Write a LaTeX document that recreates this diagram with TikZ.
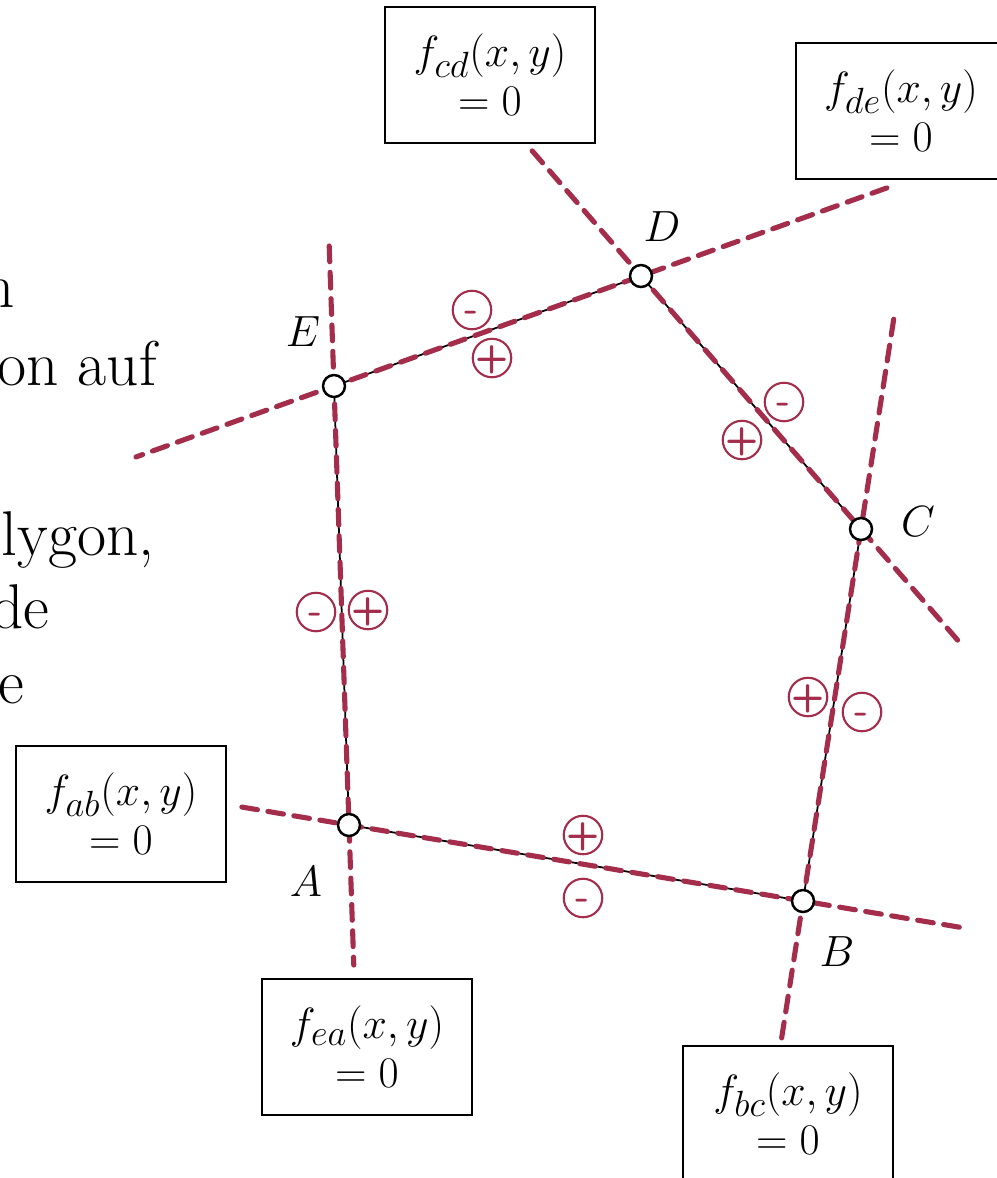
\documentclass[tikz,border=0pt]{standalone}
\usepackage{tikz}
\usepackage{xcolor}
\usetikzlibrary{calc}
\definecolor{wineRed}{RGB}{163,45,74}
\newcommand{\SignMark}[1]{\smash{\raisebox{-0.3em}{\makebox[0pt]{#1}}}}
\tikzset{
  vertex/.style={circle,draw=black,fill=white,line width=1.4pt,inner sep=0pt,minimum size=0.44cm},
  halfplane/.style={draw=wineRed,line width=2.9pt,line cap=round,dash pattern=on 9pt off 6pt},
  sign/.style={circle,draw=wineRed,text=wineRed,line width=1.2pt,inner sep=0pt,minimum size=0.77cm,font=\sffamily\bfseries\fontsize{22}{22}\selectfont},
  eqbox/.style={draw=black,fill=white,line width=0.9pt,minimum width=4.2cm,minimum height=2.72cm,align=center,font=\fontsize{31}{28}\selectfont},
  ptlabel/.style={font=\fontsize{28}{30}\selectfont},
  sidetext/.style={anchor=base east,inner sep=0pt,font=\fontsize{36}{40}\selectfont}
}

\begin{document}
\begin{tikzpicture}[x=0.02cm,y=-0.02cm]
\useasboundingbox (0,0) rectangle (997,1178);
\coordinate (A) at (349,825);
\coordinate (B) at (803,901);
\coordinate (C) at (861,529);
\coordinate (D) at (641,276);
\coordinate (E) at (334,386);

\node[sidetext] (t1) at (15,307) {n};
\node[sidetext] (t2) at (157,385) {on auf};
\node[sidetext] (t3) at (155,555) {lygon,};
\node[sidetext] (t4) at (50,628) {de};
\node[sidetext] (t5) at (25,703) {e};

\draw[line width=1pt] (A) -- (B) -- (C) -- (D) -- (E) -- cycle;

\coordinate (ab1) at ($(A)!-0.236!(B)$);
\coordinate (ab2) at ($(A)!1.350!(B)$);
\coordinate (bc1) at ($(B)!-0.368!(C)$);
\coordinate (bc2) at ($(B)!1.581!(C)$);
\coordinate (cd1) at ($(C)!-0.439!(D)$);
\coordinate (cd2) at ($(C)!1.506!(D)$);
\coordinate (de1) at ($(D)!-0.801!(E)$);
\coordinate (de2) at ($(D)!1.645!(E)$);
\coordinate (ea1) at ($(E)!-0.319!(A)$);
\coordinate (ea2) at ($(E)!1.319!(A)$);
\draw[halfplane] (ab1) -- (ab2);
\draw[halfplane] (bc1) -- (bc2);
\draw[halfplane] (cd1) -- (cd2);
\draw[halfplane] (de1) -- (de2);
\draw[halfplane] (ea1) -- (ea2);

\node[vertex] (pA) at (A) {};
\node[vertex] (pB) at (B) {};
\node[vertex] (pC) at (C) {};
\node[vertex] (pD) at (D) {};
\node[vertex] (pE) at (E) {};

\node[ptlabel] (lA) at (306,882) {$A$};
\node[ptlabel] (lB) at (837,952) {$B$};
\node[ptlabel] (lC) at (918,522) {$C$};
\node[ptlabel] (lD) at (662,227) {$D$};
\node[ptlabel] (lE) at (303,332) {$E$};

\node[sign] (deM) at (472,310) {\SignMark{-}};
\node[sign] (deP) at (492,358) {\SignMark{+}};
\node[sign] (cdM) at (784,402) {\SignMark{-}};
\node[sign] (cdP) at (742,440) {\SignMark{+}};
\node[sign] (bcP) at (808,697) {\SignMark{+}};
\node[sign] (bcM) at (862,712) {\SignMark{-}};
\node[sign] (abP) at (583,835) {\SignMark{+}};
\node[sign] (abM) at (583,898) {\SignMark{-}};
\node[sign] (eaM) at (316,612) {\SignMark{-}};
\node[sign] (eaP) at (368,610) {\SignMark{+}};

\node[eqbox] (fcd) at (490,75) {$f_{cd}(x,y)$\\$=0$};
\node[eqbox] (fde) at (901,111) {$f_{de}(x,y)$\\$=0$};
\node[eqbox] (fab) at (121,814) {$f_{ab}(x,y)$\\$=0$};
\node[eqbox] (fea) at (367,1047) {$f_{ea}(x,y)$\\$=0$};
\node[eqbox] (fbc) at (788,1114) {$f_{bc}(x,y)$\\$=0$};
\end{tikzpicture}
\end{document}
